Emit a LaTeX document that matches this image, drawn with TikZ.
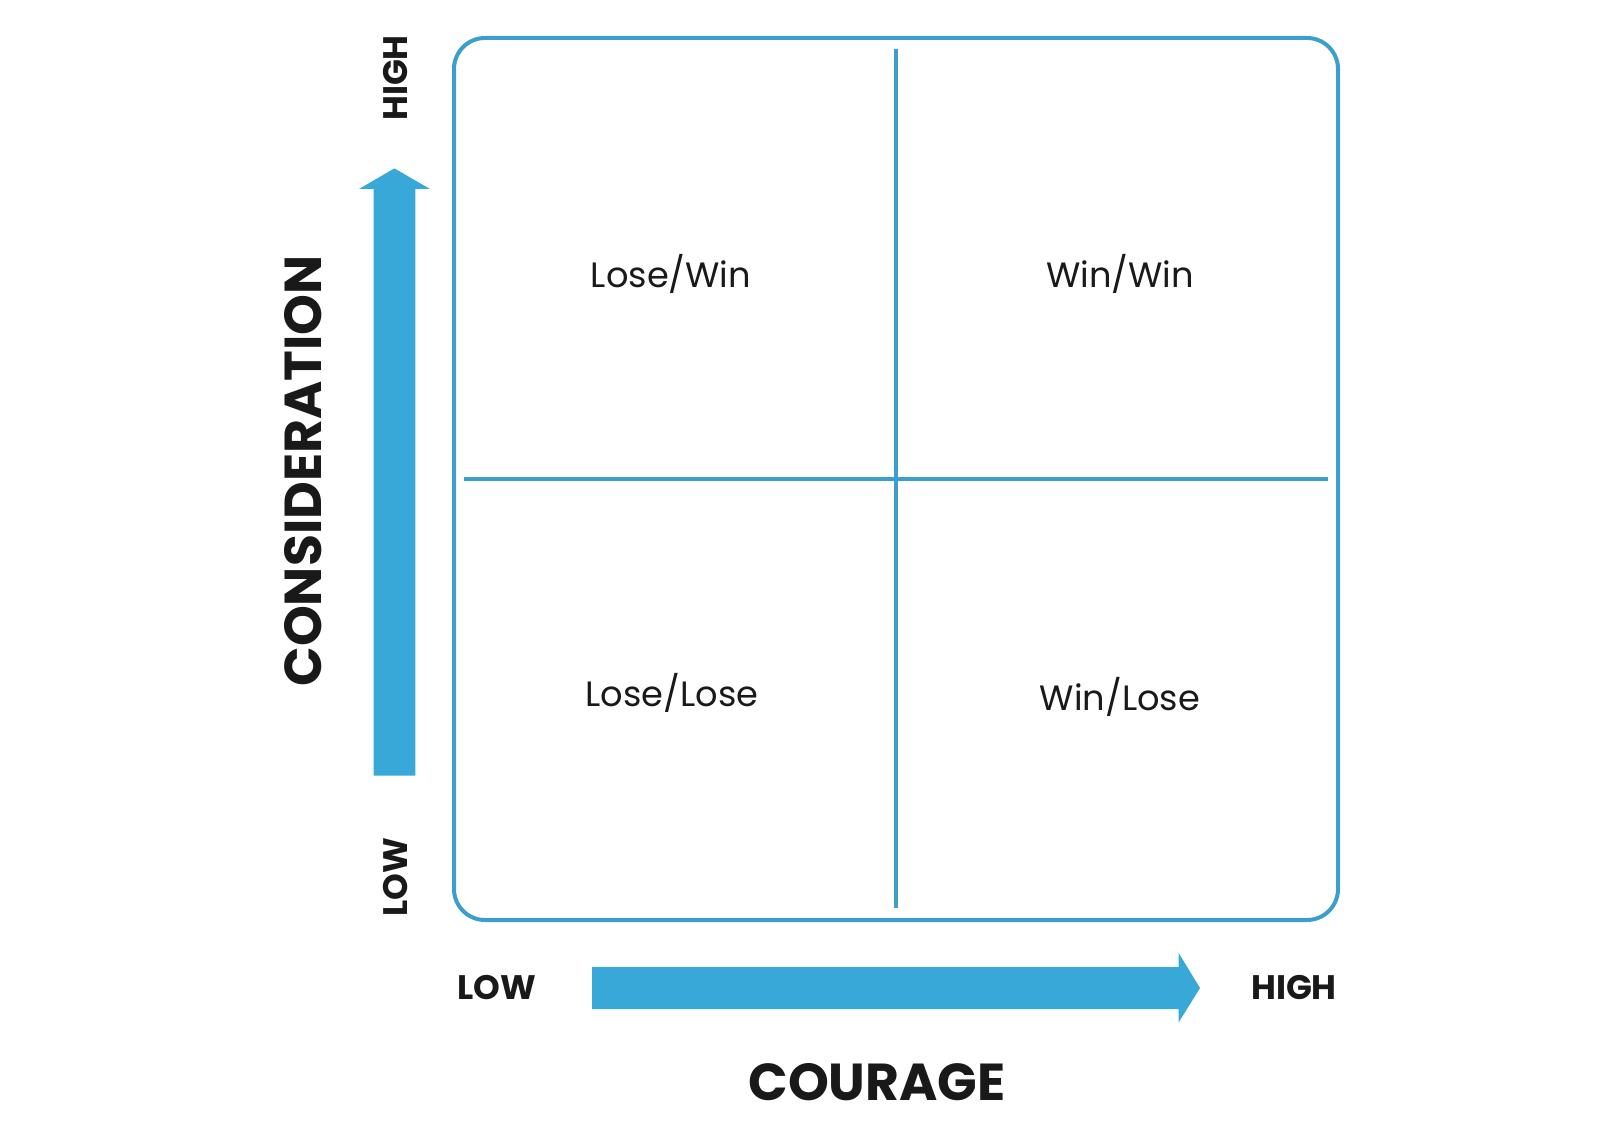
\documentclass[tikz,border=0pt]{standalone}
\usepackage{fontspec}
\setmainfont{Poppins}
\usetikzlibrary{positioning}

\definecolor{azulmarco}{RGB}{60,158,204}
\definecolor{azulflecha}{RGB}{56,168,216}

\begin{document}
\begin{tikzpicture}[
		x=0.5pt, y=-0.5pt,
		% Estilos del marco
		marco/.style={draw=azulmarco, line width=2pt, rounded corners=15.5pt},
		divisor/.style={draw=azulmarco, line width=1.8pt},
		% Estilo de flechas
		flecha/.style={fill=azulflecha, draw=none},
		% Estilos de texto
		cuadrante/.style={font=\fontsize{17.6}{21}\selectfont, text=black!90, inner sep=0pt},
		nivel/.style={font=\bfseries\fontsize{17}{21}\selectfont, text=black!90, inner sep=0pt},
		eje/.style={font=\bfseries\fontsize{26}{31}\selectfont, text=black!90, inner sep=0pt}
		]
		
		\useasboundingbox (0,0) rectangle (1600,1143);
		
		% --- MATRIZ ---
		\draw[marco] (454,38) rectangle (1338,920);
		\coordinate (vtop) at (896,49);
		\coordinate (vbot) at (896,908);
		\coordinate (hizq) at (464,479);
		\coordinate (hder) at (1328,479);
		\draw[divisor] (vtop) -- (vbot);
		\draw[divisor] (hizq) -- (hder);
		
		\node[cuadrante] (losewin) at (671,274) {Lose/Win};
		\node[cuadrante] (winwin) at (1120,274) {Win/Win};
		\node[cuadrante] (loselose) at (672,693) {Lose/Lose};
		\node[cuadrante] (winlose) at (1120,697) {Win/Lose};
		
		% --- EJE VERTICAL ---
		\fill[flecha] (373.5,775.5) -- (373.5,189) -- (359,189) -- (394.4,168.4)
			-- (430,189) -- (415.3,189) -- (415.3,775.5) -- cycle;
		\node[nivel, rotate=90] (altoy) at (396,78) {HIGH};
		\node[nivel, rotate=90] (bajoy) at (396,877) {LOW};
		\node[eje, rotate=90] (consid) at (303,471) {CONSIDERATION};
		
		% --- EJE HORIZONTAL ---
		\fill[flecha] (592,967) -- (1178.6,967) -- (1178.6,953) -- (1200,988)
			-- (1178.6,1022.5) -- (1178.6,1009) -- (592,1009) -- cycle;
		\node[nivel] (bajox) at (497,988) {LOW};
		\node[nivel] (altox) at (1294,988) {HIGH};
		\node[eje] (coraje) at (877,1082) {COURAGE};
		
	\end{tikzpicture}
\end{document}
